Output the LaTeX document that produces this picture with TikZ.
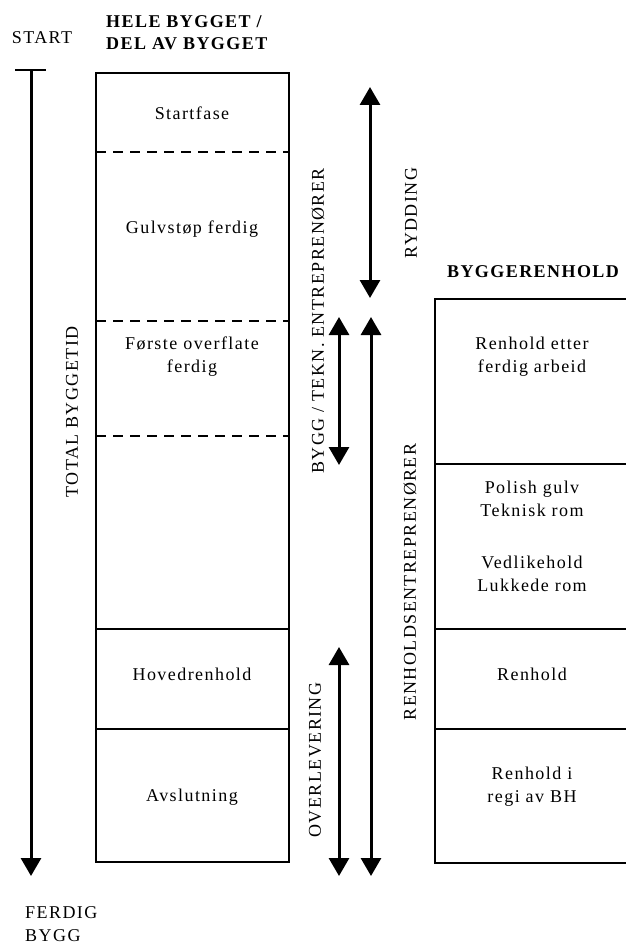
\documentclass[tikz,border=0pt]{standalone}
\usepackage{fontspec}
\setmainfont{Liberation Serif}[LetterSpace=8]
\usetikzlibrary{arrows.meta}

\tikzset{
  boxline/.style={line width=2pt},
  phaseline/.style={line width=2.4pt, dash pattern=on 10pt off 7pt},
  spanarrow/.style={line width=3pt, {Triangle[width=20pt,length=18pt]}-{Triangle[width=20pt,length=18pt]}},
  timearrow/.style={line width=3pt, -{Triangle[width=20pt,length=18pt]}},
  phasetext/.style={font=\fontsize{18}{23}\selectfont, align=center, inner sep=0pt},
  headtext/.style={font=\bfseries\fontsize{18}{22}\selectfont, align=left, inner sep=0pt},
  sidetext/.style={phasetext, rotate=90},
}

\begin{document}
\begin{tikzpicture}[x=1pt, y=-1pt]
\useasboundingbox (0,0) rectangle (625,944);

% 1. TIME AXIS (Left)
\node[phasetext] (start) at (42,38) {START};
\node[phasetext, anchor=west, align=left] (ferdig) at (25,924) {FERDIG\\BYGG};
\coordinate (tstart) at (31,70);
\coordinate (tend) at (31,876);
\draw[line width=2.5pt] (15,70) -- (46,70);
\draw[timearrow] (tstart) -- (tend);
\node[sidetext] (total) at (72,412) {TOTAL BYGGETID};

% 2. HELE BYGGET (Left column)
\node[headtext, anchor=west] (hele) at (106,33) {HELE BYGGET /\\DEL AV BYGGET};
\draw[boxline] (96,73) rectangle (289,862);
\draw[phaseline] (96,152) -- (289,152);
\draw[phaseline] (96,321) -- (289,321);
\draw[phaseline] (96,436) -- (289,436);
\draw[boxline] (96,629) -- (289,629);
\draw[boxline] (96,729) -- (289,729);

\node[phasetext] (startfase) at (192,113) {Startfase};
\node[phasetext] (gulv) at (192,229) {Gulvstøp ferdig};
\node[phasetext] (forste) at (192,357) {Første overflate\\ferdig};
\node[phasetext] (hoved) at (192,674) {Hovedrenhold};
\node[phasetext] (avslut) at (192,797) {Avslutning};

% 3. RESPONSIBILITY ARROWS (Middle)
\coordinate (ryddtop) at (370,87);
\coordinate (ryddbot) at (370,298);
\coordinate (byggtop) at (339,317);
\coordinate (byggbot) at (339,465);
\coordinate (rentop) at (371,317);
\coordinate (renbot) at (371,876);
\coordinate (overtop) at (339,647);
\coordinate (overbot) at (339,876);

\draw[spanarrow] (ryddtop) -- (ryddbot);
\draw[spanarrow] (byggtop) -- (byggbot);
\draw[spanarrow] (rentop) -- (renbot);
\draw[spanarrow] (overtop) -- (overbot);

\node[sidetext] (bygg) at (318,321) {BYGG / TEKN. ENTREPRENØRER};
\node[sidetext] (rydding) at (411,213) {RYDDING};
\node[sidetext] (renent) at (410,582) {RENHOLDSENTREPRENØRER};
\node[sidetext] (overlev) at (315,760) {OVERLEVERING};

% 4. BYGGERENHOLD (Right column)
\node[headtext] (byggren) at (533,272) {BYGGERENHOLD};
\draw[boxline] (627,299) -| (435,863) -- (627,863);
\draw[boxline] (435,464) -- (627,464);
\draw[boxline] (435,629) -- (627,629);
\draw[boxline] (435,729) -- (627,729);

\node[phasetext] (etter) at (532,357) {Renhold etter\\ferdig arbeid};
\node[phasetext] (polish) at (532,499) {Polish gulv\\Teknisk rom};
\node[phasetext] (vedlike) at (532,574) {Vedlikehold\\Lukkede rom};
\node[phasetext] (renhold) at (532,674) {Renhold};
\node[phasetext] (regi) at (532,787) {Renhold i\\regi av BH};

\end{tikzpicture}
\end{document}
